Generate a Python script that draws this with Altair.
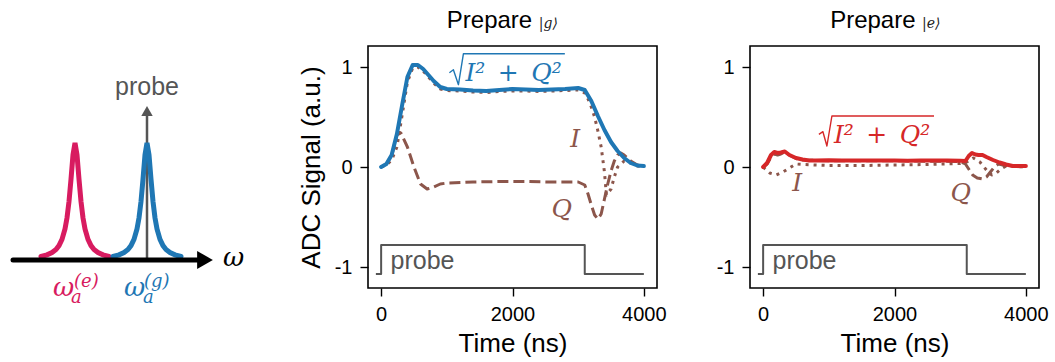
import altair as alt
import pandas as pd

# ---------------- data: Prepare |g> ----------------
g_amp_t = [0, 80, 160, 240, 320, 400, 480, 560, 640, 720, 800, 900, 1000, 1200, 1400, 1600, 1800,
           2000, 2200, 2400, 2600, 2800, 3000, 3100, 3200, 3300, 3400, 3500, 3600, 3700, 3800, 3900, 4000]
g_amp_v = [0, 0.03, 0.12, 0.33, 0.62, 0.90, 1.02, 1.02, 0.98, 0.92, 0.86, 0.80, 0.78, 0.775, 0.765, 0.76, 0.77,
           0.78, 0.775, 0.77, 0.775, 0.78, 0.79, 0.77, 0.66, 0.51, 0.37, 0.25, 0.16, 0.09, 0.04, 0.015, 0.01]

g_I_t = [0, 80, 160, 240, 320, 400, 480, 560, 640, 720, 800, 900, 1000, 1200, 1400, 1600, 1800, 2000,
         2200, 2400, 2600, 2800, 3000, 3100, 3150, 3200, 3250, 3300, 3350, 3400, 3430, 3500, 3550, 3600,
         3700, 3800, 3900, 4000]
g_I_v = [0, 0.02, 0.07, 0.20, 0.52, 0.85, 0.99, 1.0, 0.96, 0.90, 0.84, 0.78, 0.765, 0.76, 0.75, 0.745, 0.755, 0.76,
         0.76, 0.755, 0.76, 0.765, 0.77, 0.74, 0.68, 0.60, 0.50, 0.36, 0.20, -0.05, -0.28, -0.22, -0.10, 0.0,
         0.06, 0.04, 0.01, 0.0]

g_Q_t = [0, 80, 160, 240, 300, 400, 500, 600, 700, 800, 900, 1000, 1400, 1800, 2200, 2600, 3000, 3100,
         3150, 3200, 3250, 3300, 3350, 3400, 3450, 3500, 3550, 3600, 3650, 3700, 3800, 3900, 4000]
g_Q_v = [0, 0.03, 0.11, 0.32, 0.34, 0.20, 0.0, -0.17, -0.22, -0.20, -0.17, -0.16, -0.15, -0.145, -0.145, -0.15, -0.15, -0.18,
         -0.27, -0.38, -0.48, -0.52, -0.47, -0.32, -0.17, -0.04, 0.06, 0.12, 0.14, 0.12, 0.06, 0.02, 0.0]

# ---------------- data: Prepare |e> ----------------
e_amp_t = [0, 60, 120, 170, 220, 270, 330, 400, 500, 600, 700, 800, 1000, 1200, 1400, 1600, 1800, 2000,
           2200, 2400, 2600, 2800, 3000, 3080, 3130, 3180, 3230, 3280, 3340, 3400, 3500, 3600, 3700, 3800, 3900, 4000]
e_amp_v = [0, 0.04, 0.12, 0.15, 0.14, 0.145, 0.155, 0.12, 0.09, 0.075, 0.065, 0.065, 0.067, 0.065, 0.066, 0.064, 0.066, 0.065,
           0.063, 0.066, 0.064, 0.066, 0.062, 0.06, 0.11, 0.14, 0.125, 0.12, 0.12, 0.10, 0.07, 0.045, 0.025, 0.01, 0.01, 0.01]

e_I_t = [0, 100, 200, 300, 400, 500, 600, 800, 1000, 1500, 2000, 2500, 3000, 3100, 3200, 3300, 3400, 3480,
         3550, 3620, 3700, 3800, 4000]
e_I_v = [0, -0.06, -0.08, -0.05, -0.01, 0.03, 0.025, 0.02, 0.015, 0.015, 0.02, 0.025, 0.035, 0.05, 0.09, 0.05, -0.03, -0.08,
         -0.06, -0.02, 0.01, 0.01, 0.0]

e_Q_t = [0, 60, 120, 170, 220, 270, 330, 400, 500, 600, 1000, 2000, 3000, 3080, 3130, 3190, 3260, 3340,
         3400, 3460, 3520, 3580, 3650, 3750, 4000]
e_Q_v = [0, 0.03, 0.10, 0.13, 0.12, 0.13, 0.15, 0.12, 0.085, 0.07, 0.062, 0.062, 0.055, 0.03, -0.02, -0.08, -0.11, -0.12,
         -0.10, -0.05, 0.0, 0.03, 0.02, 0.01, 0.0]

# probe pulse (shared)
probe_t = [-80, 0, 0, 3100, 3100, 4000]
probe_v = [-1.07, -1.07, -0.78, -0.78, -1.07, -1.07]

# radical sign of the sqrt(I^2+Q^2) annotations (data coordinates)
rad_g_t = [1039, 1100, 1177, 1253, 2797]
rad_g_v = [0.943, 0.973, 0.823, 1.133, 1.133]
rad_e_t = [849, 910, 971, 1047, 2602]
rad_e_v = [0.326, 0.353, 0.21, 0.51, 0.51]

# ---------------- schematic (left) ----------------
lor_dx = [-34, -28, -23, -19, -16, -13, -10, -8, -6, -4, -2, 0, 2, 4, 6, 8, 10, 13, 16, 19, 23, 28, 34]
lor_h = [0.03, 0.044, 0.064, 0.09, 0.123, 0.176, 0.265, 0.36, 0.5, 0.69, 0.9, 1.0, 0.9, 0.69, 0.5, 0.36, 0.265,
         0.176, 0.123, 0.09, 0.064, 0.044, 0.03]
peak_e_x, peak_g_x = 74, 146
base_y, peak_height = 28, 117

RED_PK = "#d81b60"
BLUE = "#1f77b4"
BROWN = "#8c564b"
RED = "#d62728"
GRAY = "#555555"
SANS = "Liberation Sans"
SERIF = "DejaVu Serif"

XS = alt.Scale(domain=[-200, 4200], nice=False, zero=False)
YS = alt.Scale(domain=[-1.21, 1.21], nice=False, zero=False)


def enc(ytitle):
    return dict(
        x=alt.X("t:Q", scale=XS,
                axis=alt.Axis(values=[0, 2000, 4000], title="Time (ns)", labelExpr="'' + datum.value",
                              titlePadding=6)),
        y=alt.Y("v:Q", scale=YS,
                axis=alt.Axis(values=[-1, 0, 1], title=ytitle, labelExpr="'' + datum.value", titlePadding=10)),
    )


def line(ts, vs, color, width, dash, ytitle, cap="butt"):
    df = pd.DataFrame({"t": ts, "v": vs, "i": range(len(ts))})
    kw = dict(color=color, strokeWidth=width, clip=False, strokeCap=cap, strokeJoin="round")
    if dash:
        kw["strokeDash"] = dash
    return alt.Chart(df).mark_line(**kw).encode(order="i:Q", **enc(ytitle))


def text(t, v, label, ytitle, **kw):
    df = pd.DataFrame({"t": [t], "v": [v], "label": [label]})
    return alt.Chart(df).mark_text(**kw).encode(text="label:N", **enc(ytitle))


def panel(amp_t, amp_v, I_t, I_v, Q_t, Q_v, amp_color, ytitle, state, title_right, ket_left,
          rad_t, rad_v, sq_base, I_pos, Q_pos):
    layers = [
        line(probe_t, probe_v, GRAY, 2, None, ytitle),
        line(Q_t, Q_v, BROWN, 3, [11, 5], ytitle),
        line(I_t, I_v, BROWN, 3, [3, 5], ytitle),
        line(amp_t, amp_v, amp_color, 4, None, ytitle, "round"),
        text(143, -1.02, "probe", ytitle, align="left", baseline="alphabetic", font=SANS, fontSize=25, color=GRAY),
        text(title_right, 1.39, "Prepare", ytitle, align="right", baseline="alphabetic", font=SANS, fontSize=24,
             color="black"),
        text(ket_left, 1.39, "|" + state + "⟩", ytitle, align="left", baseline="alphabetic", font=SERIF,
             fontSize=14, fontStyle="italic", color="#222222"),
        line(rad_t, rad_v, amp_color, 1.4, None, ytitle),
        text(rad_t[3] + 30, sq_base, "I²\u2002+\u2002Q²", ytitle, align="left", baseline="alphabetic", font=SERIF,
             fontSize=25, fontStyle="italic", color=amp_color),
        text(I_pos[0], I_pos[1], "I", ytitle, align="center", baseline="middle", font=SERIF, fontSize=25,
             fontStyle="italic", color=BROWN),
        text(Q_pos[0], Q_pos[1], "Q", ytitle, align="center", baseline="middle", font=SERIF, fontSize=25,
             fontStyle="italic", color=BROWN),
    ]
    return alt.layer(*layers).properties(width=289, height=242)


mid = panel(g_amp_t, g_amp_v, g_I_t, g_I_v, g_Q_t, g_Q_v, BLUE, "ADC Signal (a.u.)", "g", 2300, 2400,
            rad_g_t, rad_g_v, 0.863, (2955, 0.28), (2751, -0.42))
right = panel(e_amp_t, e_amp_v, e_I_t, e_I_v, e_Q_t, e_Q_v, RED, None, "e", 2320, 2420,
              rad_e_t, rad_e_v, 0.236, (518, -0.157), (3009, -0.257))

# ---------------- left schematic ----------------
LX = alt.Scale(domain=[0, 250], nice=False, zero=False)
LY = alt.Scale(domain=[0, 242], nice=False, zero=False)


def lenc():
    return dict(x=alt.X("x:Q", scale=LX, axis=None), y=alt.Y("y:Q", scale=LY, axis=None))


def lline(xs, ys, color, width):
    df = pd.DataFrame({"x": xs, "y": ys, "i": range(len(xs))})
    return alt.Chart(df).mark_line(color=color, strokeWidth=width, strokeCap="round", clip=False).encode(
        order="i:Q", **lenc())


def lpoint(x, y, shape, size, color):
    df = pd.DataFrame({"x": [x], "y": [y]})
    return alt.Chart(df).mark_point(shape=shape, size=size, filled=True, opacity=1, color=color).encode(**lenc())


def ltext(x, y, label, color, size, font, style="normal", align="left"):
    df = pd.DataFrame({"x": [x], "y": [y], "label": [label]})
    return alt.Chart(df).mark_text(align=align, baseline="alphabetic", font=font, fontSize=size,
                                   fontStyle=style, color=color).encode(text="label:N", **lenc())


peak_e = lline([peak_e_x + d for d in lor_dx], [base_y + peak_height * h for h in lor_h], RED_PK, 5)
peak_g = lline([peak_g_x + d for d in lor_dx], [base_y + peak_height * h for h in lor_h], BLUE, 5)

left = alt.layer(
    lline([peak_g_x, peak_g_x], [base_y, 176], GRAY, 2.5),
    lpoint(peak_g_x, 177, "triangle-up", 130, GRAY),
    peak_e,
    peak_g,
    lline([12, 200], [base_y, base_y], "black", 5),
    lpoint(204, base_y, "triangle-right", 330, "black"),
    ltext(146, 193, "probe", GRAY, 25, SANS, align="center"),
    ltext(222, 22, "ω", "black", 26, SERIF, "italic"),
    ltext(52, -8, "ω", RED_PK, 26, SERIF, "italic"),
    ltext(70, -15, "a", RED_PK, 18, SERIF, "italic"),
    ltext(73, 1, "(e)", RED_PK, 18, SERIF, "italic"),
    ltext(123, -8, "ω", BLUE, 26, SERIF, "italic"),
    ltext(142, -15, "a", BLUE, 18, SERIF, "italic"),
    ltext(143, 1, "(g)", BLUE, 18, SERIF, "italic"),
).properties(width=250, height=242, view=alt.ViewBackground(stroke="transparent"))

chart = alt.hconcat(left, alt.hconcat(mid, right, spacing=48), spacing=45).properties(
    padding={"left": 0, "top": 8, "right": 0, "bottom": 0}, background="white"
).configure_view(stroke="black", strokeWidth=1.6).configure_axis(
    grid=False, domain=False, tickColor="black", tickWidth=1.4, tickSize=8,
    labelFont=SANS, labelFontSize=20, labelColor="black", labelPadding=8,
    titleFont=SANS, titleFontSize=26, titleFontWeight="normal", titleColor="black",
)

chart.save("out.html", embed_options={"renderer": "svg", "actions": False})
